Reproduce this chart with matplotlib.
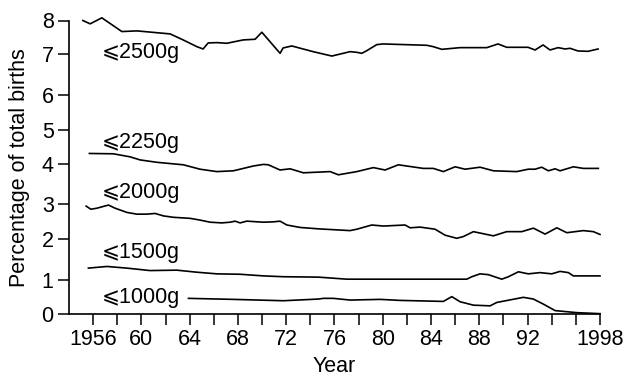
import numpy as np
import matplotlib
matplotlib.use("Agg")
import matplotlib.pyplot as plt

plt.rcParams['font.family'] = ['Liberation Sans', 'DejaVu Sans']

# ---- data ----
y2500 = [1955.15, 1955.75, 1956.72, 1958.38, 1959.62, 1962.38, 1963.46, 1964.59, 1965.11, 1965.53,
         1966.25, 1967.08, 1968.43, 1969.42, 1969.98, 1971.49, 1971.74, 1972.46, 1974.23, 1975.78,
         1977.29, 1977.85, 1978.26, 1978.68, 1979.50, 1980.03, 1983.65, 1984.17, 1984.89, 1986.41,
         1988.62, 1989.55, 1990.27, 1992.04, 1992.62, 1993.28, 1993.86, 1994.53, 1995.11, 1995.52,
         1996.18, 1997.01, 1997.84]
v2500 = [8.00, 7.90, 8.08, 7.67, 7.69, 7.60, 7.42, 7.22, 7.15, 7.33,
         7.34, 7.32, 7.42, 7.44, 7.65, 7.02, 7.18, 7.24, 7.07, 6.95,
         7.07, 7.05, 7.02, 7.10, 7.28, 7.30, 7.26, 7.22, 7.14, 7.19,
         7.19, 7.30, 7.20, 7.20, 7.12, 7.27, 7.12, 7.19, 7.15, 7.17,
         7.09, 7.08, 7.15]

y2250 = [1955.69, 1957.68, 1959.07, 1959.89, 1961.28, 1963.48, 1964.86, 1966.25, 1967.62, 1969.28,
         1970.11, 1970.52, 1971.49, 1972.32, 1973.42, 1975.64, 1976.32, 1977.85, 1979.22, 1980.19,
         1981.29, 1983.36, 1984.19, 1985.02, 1985.99, 1986.82, 1988.06, 1989.17, 1991.10, 1992.06,
         1992.62, 1993.17, 1993.72, 1994.28, 1994.69, 1995.79, 1996.62, 1997.86]
v2250 = [4.31, 4.30, 4.21, 4.12, 4.05, 3.98, 3.87, 3.81, 3.83, 3.95,
         3.99, 3.98, 3.85, 3.88, 3.78, 3.81, 3.73, 3.81, 3.91, 3.85,
         3.98, 3.89, 3.89, 3.81, 3.93, 3.87, 3.92, 3.83, 3.81, 3.87,
         3.87, 3.92, 3.83, 3.88, 3.83, 3.93, 3.89, 3.89]

y2000 = [1955.42, 1955.81, 1956.31, 1957.27, 1957.82, 1958.79, 1959.62, 1960.45, 1961.14, 1961.82,
         1962.65, 1964.04, 1964.86, 1965.69, 1966.66, 1967.35, 1967.76, 1968.18, 1968.73, 1970.11,
         1970.94, 1971.49, 1972.05, 1973.15, 1974.67, 1977.29, 1977.85, 1979.09, 1980.05, 1981.85,
         1982.26, 1983.09, 1984.33, 1985.16, 1986.13, 1986.68, 1987.51, 1988.20, 1989.16, 1990.27,
         1991.52, 1992.48, 1993.45, 1994.42, 1995.25, 1996.62, 1997.45, 1998.00]
v2000 = [2.94, 2.85, 2.88, 2.97, 2.88, 2.76, 2.71, 2.71, 2.73, 2.66,
         2.62, 2.59, 2.54, 2.48, 2.46, 2.48, 2.51, 2.46, 2.51, 2.48,
         2.49, 2.51, 2.40, 2.33, 2.29, 2.24, 2.28, 2.40, 2.37, 2.40,
         2.32, 2.34, 2.28, 2.11, 2.02, 2.07, 2.21, 2.16, 2.09, 2.21,
         2.21, 2.31, 2.14, 2.32, 2.18, 2.24, 2.21, 2.13]

y1500 = [1955.61, 1957.14, 1958.79, 1960.72, 1962.93, 1964.59, 1966.25, 1968.18, 1970.11, 1971.77,
         1974.67, 1977.02, 1981.44, 1986.96, 1987.38, 1988.06, 1988.75, 1989.86, 1990.41, 1991.24,
         1992.06, 1993.03, 1994.00, 1994.69, 1995.38, 1995.79, 1998.00]
v1500 = [1.29, 1.33, 1.29, 1.23, 1.24, 1.19, 1.15, 1.14, 1.10, 1.08,
         1.07, 1.02, 1.02, 1.02, 1.08, 1.15, 1.13, 1.02, 1.08, 1.20,
         1.15, 1.18, 1.15, 1.21, 1.18, 1.10, 1.10]

y1000 = [1963.90, 1967.62, 1971.77, 1974.67, 1975.08, 1975.91, 1977.29, 1979.78, 1981.44, 1985.02,
         1985.72, 1986.41, 1987.51, 1988.89, 1989.45, 1991.65, 1992.48, 1993.31, 1994.28, 1996.07,
         1998.00]
v1000 = [0.46, 0.43, 0.39, 0.44, 0.46, 0.46, 0.41, 0.43, 0.40, 0.37,
         0.51, 0.36, 0.26, 0.24, 0.34, 0.49, 0.44, 0.29, 0.10, 0.04,
         0.01]

series_labels = ["\u2a7d2500g", "\u2a7d2250g", "\u2a7d2000g", "\u2a7d1500g", "\u2a7d1000g"]
label_y = [7.03, 4.62, 3.28, 1.66, 0.50]

x_ticks = list(range(1956, 1999, 2))
x_labeled = {1956: "1956", 1960: "60", 1964: "64", 1968: "68", 1972: "72",
             1976: "76", 1980: "80", 1984: "84", 1988: "88", 1992: "92", 1998: "1998"}
y_ticks = [0, 1, 2, 3, 4, 5, 6, 7, 8]

# Axis scale as drawn in the original (uneven spacing of the printed y ticks)
_TV = np.array([0, 1, 2, 3, 4, 5, 6, 7, 8], float)
_TP = np.array([0, 34, 75, 110, 150, 184, 219, 260, 293.5], float)


def _fwd(v):
    v = np.asarray(v, float)
    out = np.interp(v, _TV, _TP)
    out = np.where(v > 8, _TP[-1] + (v - 8) * (_TP[-1] - _TP[-2]), out)
    out = np.where(v < 0, v * (_TP[1] - _TP[0]), out)
    return out


def _inv(p):
    p = np.asarray(p, float)
    out = np.interp(p, _TP, _TV)
    out = np.where(p > _TP[-1], 8 + (p - _TP[-1]) / (_TP[-1] - _TP[-2]), out)
    out = np.where(p < 0, p / (_TP[1] - _TP[0]), out)
    return out


FS = 15.5

fig = plt.figure(figsize=(6.33, 3.76), dpi=100)
ax = fig.add_axes([69 / 633, (376 - 314) / 376, (600 - 69) / 633, (314 - 20.5) / 376])
ax.set_yscale('function', functions=(_fwd, _inv))

for xs, vs in [(y2500, v2500), (y2250, v2250), (y2000, v2000), (y1500, v1500), (y1000, v1000)]:
    ax.plot(xs, vs, color='black', lw=1.2, clip_on=False, solid_joinstyle='round')

for lab, ly in zip(series_labels, label_y):
    ax.text(1956.75, ly, lab, fontsize=FS, va='center', ha='left', color='black')

ax.set_xlim(1954, 1998)
ax.set_ylim(0, 8)
ax.set_xticks(x_ticks)
ax.set_xticklabels([x_labeled.get(t, "") for t in x_ticks])
ax.set_yticks(y_ticks)
ax.set_yticklabels([str(t) for t in y_ticks])
ax.tick_params(axis='both', labelsize=FS, length=8, width=1.1, direction='out', color='black')
ax.tick_params(axis='x', pad=3)
ax.tick_params(axis='y', pad=3)
ax.minorticks_off()

for s in ['top', 'right']:
    ax.spines[s].set_visible(False)
for s in ['left', 'bottom']:
    ax.spines[s].set_linewidth(1.2)

ax.set_xlabel("Year", fontsize=FS, labelpad=4)
ax.set_ylabel("Percentage of total births", fontsize=FS, labelpad=8)

fig.savefig("out.png", dpi=100)
